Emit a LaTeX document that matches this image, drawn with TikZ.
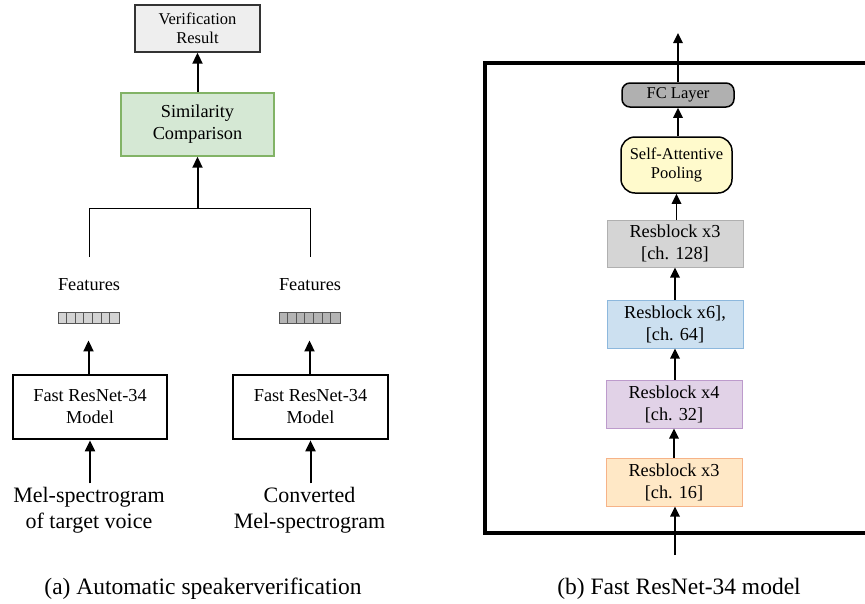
\documentclass[tikz,border=0pt]{standalone}
\usepackage{fontspec}
\setmainfont{Liberation Serif}
\usetikzlibrary{arrows.meta,calc}
\definecolor{vrfill}{HTML}{EEEEEE}
\definecolor{vrdraw}{HTML}{333333}
\definecolor{simfill}{HTML}{D5E8D4}
\definecolor{simdraw}{HTML}{82B366}
\definecolor{fvA}{HTML}{D3D3D3}
\definecolor{fvB}{HTML}{B4B4B4}
\definecolor{fvdraw}{HTML}{555555}
\definecolor{fcfill}{HTML}{B0B0B0}
\definecolor{sapfill}{HTML}{FFFACC}
\definecolor{rbAfill}{HTML}{D5D5D5}
\definecolor{rbAdraw}{HTML}{B0B0B0}
\definecolor{rbBfill}{HTML}{CCE0F0}
\definecolor{rbBdraw}{HTML}{8DB8DD}
\definecolor{rbCfill}{HTML}{E1D2E7}
\definecolor{rbCdraw}{HTML}{BD9BCC}
\definecolor{rbDfill}{HTML}{FFE8C6}
\definecolor{rbDdraw}{HTML}{F6B388}
\begin{document}
\begin{tikzpicture}[x=1pt,y=-1pt,
  arr/.style={line width=2pt,-{Triangle[width=10pt,length=11pt]}},
  arrb/.style={line width=1.7pt,-{Triangle[width=9.5pt,length=10pt]}},
  blk/.style={draw,inner sep=0pt,align=center},
  t16/.style={font=\fontsize{16.5}{19}\selectfont},
  t18/.style={font=\fontsize{18.3}{22}\selectfont},
  t22/.style={font=\fontsize{22}{26}\selectfont},
  captxt/.style={font=\fontsize{23.5}{28}\selectfont,anchor=base},
  fvec/.style={draw=fvdraw,line width=0.9pt,minimum width=61pt,minimum height=11pt,inner sep=0pt},
  rb/.style={blk,t18,line width=1pt,minimum width=136pt,minimum height=48pt}
]
\useasboundingbox (0,0) rectangle (865,603);

% ---------- panel (a) ----------
\node[blk,t16,fill=vrfill,draw=vrdraw,line width=1.4pt,minimum width=125pt,minimum height=47pt] (vr) at (197.5,28.5) {Verification\\Result};
\node[blk,t18,fill=simfill,draw=simdraw,line width=1.4pt,minimum width=153pt,minimum height=63pt] (sim) at (197.5,124.5) {Similarity\\Comparison};

\node[t18,anchor=base] (feat1) at (89,290) {Features};
\node[t18,anchor=base] (feat2) at (310,290) {Features};

\node[fvec,fill=fvA] (fv1) at (88.5,317.5) {};
\node[fvec,fill=fvB] (fv2) at (309.5,317.5) {};
\foreach \i in {1,...,6}{
  \draw[fvdraw,line width=0.9pt] ($(fv1.west)+(\i*61/7,-5.5)$) -- ++(0,11);
  \draw[fvdraw,line width=0.9pt] ($(fv2.west)+(\i*61/7,-5.5)$) -- ++(0,11);
}

\node[blk,t18,line width=2.7pt,minimum width=154pt,minimum height=64pt] (m1) at (90,407) {Fast ResNet-34\\Model};
\node[blk,t18,line width=2.7pt,minimum width=155pt,minimum height=64pt] (m2) at (310.5,407) {Fast ResNet-34\\Model};

\node[t22,align=center] (in1) at (89,510) {Mel-spectrogram\\of target voice};
\node[t22,align=center] (in2) at (309.5,510) {Converted\\Mel-spectrogram};

\coordinate (b1) at (89,257);
\coordinate (b2) at (310,257);
\coordinate (bm) at (197.5,208);
\draw[line width=1pt] (b1) -- (b1 |- bm) -- (b2 |- bm) -- (b2);
\draw[arr] (bm) -- (sim.south);
\draw[arr] (sim.north) -- (vr.south);
\draw[arr,shorten >=17pt] (m1.north -| fv1.south) -- (fv1.south);
\draw[arr,shorten >=17pt] (m2.north -| fv2.south) -- (fv2.south);
\draw[arr] (in1.north -| m1.south) -- (m1.south);
\draw[arr] (in2.north -| m2.south) -- (m2.south);

\node[captxt] (capa) at (203,594) {(a) Automatic speakerverification};

% ---------- panel (b) ----------
\draw[line width=3.2pt] (875,63) -- (485,63) -- (485,533) -- (875,533);

\node[blk,t16,fill=fcfill,line width=1.5pt,rounded corners=8pt,minimum width=112pt,minimum height=24pt] (fc) at (678,95) {FC Layer};
\node[blk,t16,fill=sapfill,line width=1.5pt,rounded corners=14pt,minimum width=111pt,minimum height=56pt] (sap) at (676.5,165) {Self-Attentive\\Pooling};
\node[rb,fill=rbAfill,draw=rbAdraw,minimum height=47pt] (rb128) at (675,243.5) {Resblock x3\\{[ch. 128]}};
\node[rb,fill=rbBfill,draw=rbBdraw] (rb64) at (675,324) {Resblock x6],\\{[ch. 64]}};
\node[rb,fill=rbCfill,draw=rbCdraw] (rb32) at (674,404) {Resblock x4\\{[ch. 32]}};
\node[rb,fill=rbDfill,draw=rbDdraw] (rb16) at (674,482) {Resblock x3\\{[ch. 16]}};

\coordinate (outtop) at (678,33);
\coordinate (inbot) at (675,555);
\draw[arrb] (fc.north) -- (outtop);
\draw[arrb] (sap.north -| fc.south) -- (fc.south);
\draw[arrb] (rb128.north -| sap.south) -- (sap.south);
\draw[arrb] (rb64.north) -- (rb128.south);
\draw[arrb] (rb32.north -| rb64.south) -- (rb64.south);
\draw[arrb] (rb16.north) -- (rb32.south);
\draw[arrb] (inbot) -- (inbot |- rb16.south);

\node[captxt] (capb) at (679,594) {(b) Fast ResNet-34 model};
\end{tikzpicture}
\end{document}
